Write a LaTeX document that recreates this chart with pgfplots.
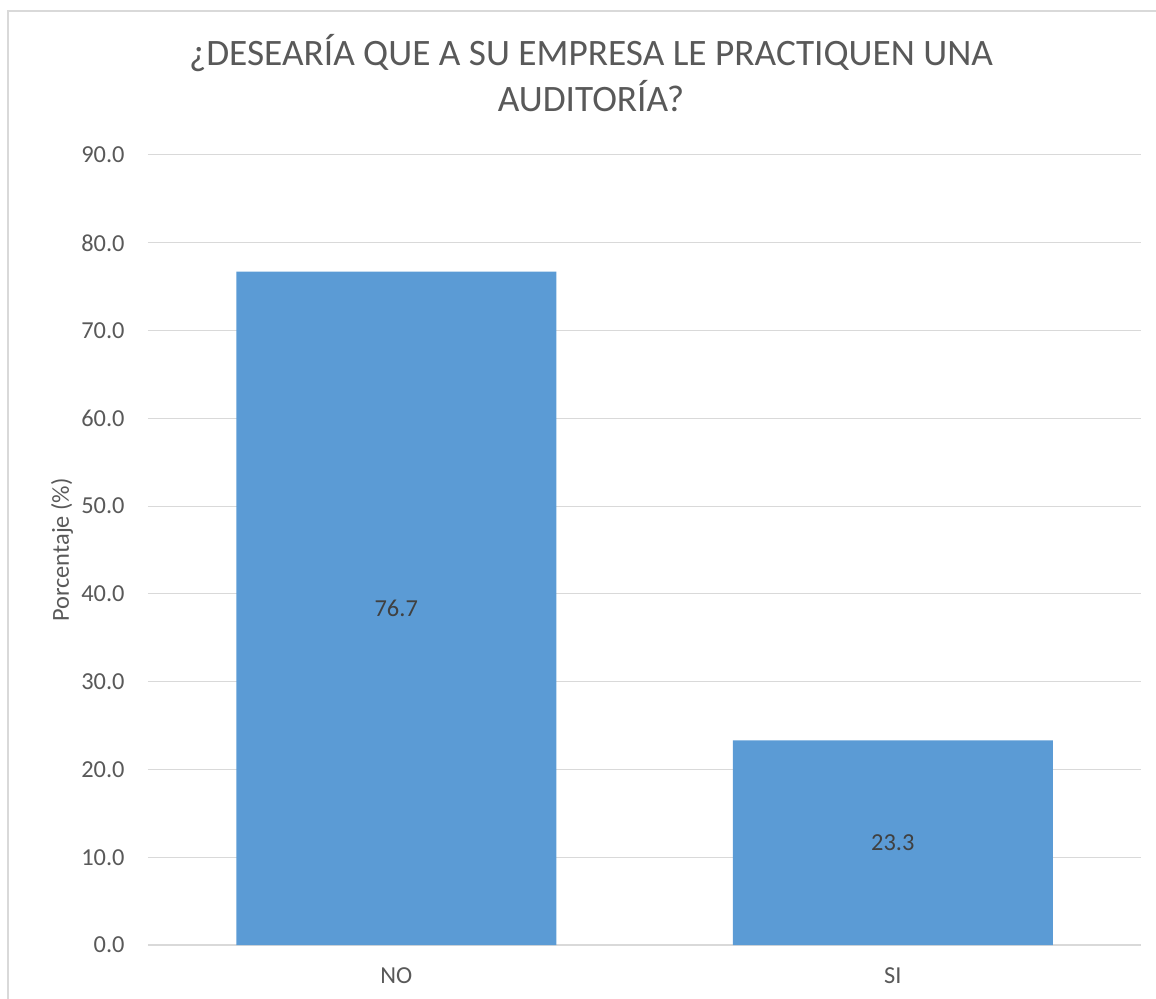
\documentclass[border=0pt]{standalone}
\usepackage{fontspec}
\setmainfont{Carlito}
\usepackage{pgfplots}
\pgfplotsset{compat=1.18}
\definecolor{barblue}{HTML}{5B9BD5}
\definecolor{gridgray}{HTML}{D9D9D9}
\definecolor{txtgray}{HTML}{595959}
\definecolor{lblgray}{HTML}{404040}
\begin{document}
\begin{tikzpicture}
\useasboundingbox (-74pt,-26.5pt) rectangle (504pt,472.5pt);
\draw[gridgray, line width=0.75pt] (-70pt,-60pt) rectangle (540pt,467pt);
\begin{axis}[
  at={(0pt,0pt)}, anchor=south west,
  scale only axis, width=496.5pt, height=395pt,
  xmin=-0.5, xmax=1.5, ymin=0, ymax=90,
  xtick={0,1}, xticklabels={NO,SI},
  ytick={0,10,...,90},
  ymajorgrids, grid style={gridgray, line width=0.5pt},
  axis x line*=bottom, axis y line*=left,
  y axis line style={draw=none},
  x axis line style={gridgray, line width=1pt},
  major tick length=0pt,
  tick style={draw=none},
  yticklabel style={font=\fontsize{12.2}{14}\selectfont, text=txtgray, anchor=east, inner sep=0pt, xshift=-11.5pt,
    /pgf/number format/.cd, fixed, fixed zerofill, precision=1, assume math mode=true},
  xticklabel style={font=\fontsize{12.2}{14}\selectfont, text=txtgray, anchor=base, inner sep=0pt, yshift=-19pt},
  ylabel={Porcentaje (\%)},
  every axis y label/.style={at={(axis description cs:-0.0866,0.5)}, rotate=90, anchor=center, font=\fontsize{12.2}{14}\selectfont, text=txtgray},
]
\addplot[ybar, bar width=160pt, bar shift=0pt, fill=barblue, draw=none,
  point meta=explicit symbolic, nodes near coords,
  visualization depends on={rawy \as \rawy},
  every node near coord/.append style={anchor=center, yshift={-\rawy*2.194444pt}, font=\fontsize{12.2}{14}\selectfont, text=lblgray}]
  coordinates {(0,76.7)[76.7] (1,23.3)[23.3]};
\end{axis}
\node[font=\fontsize{18.65}{22}\selectfont, text=txtgray, anchor=base, inner sep=0pt] at (221.5pt,439.5pt) {¿DESEARÍA QUE A SU EMPRESA LE PRACTIQUEN UNA};
\node[font=\fontsize{18.65}{22}\selectfont, text=txtgray, anchor=base, inner sep=0pt] at (221.5pt,416.5pt) {AUDITORÍA?};
\end{tikzpicture}
\end{document}
